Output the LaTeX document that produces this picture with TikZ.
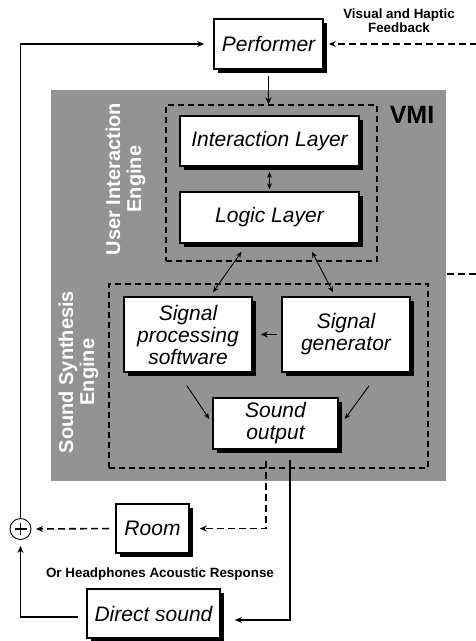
\documentclass[tikz,border=0pt]{standalone}
\usepackage{fontspec}
\setmainfont{Liberation Sans}
\usetikzlibrary{arrows.meta,shadows}
\definecolor{vmigray}{RGB}{147,147,147}

\begin{document}
\begin{tikzpicture}[x=1pt, y=-1pt,
    blockbox/.style={draw, line width=1.6pt, fill=white, align=center, inner sep=0pt,
        font=\fontsize{21}{22}\selectfont\itshape,
        drop shadow={shadow xshift=4pt, shadow yshift=-4pt, fill=black, opacity=1}},
    enginebox/.style={draw, dash pattern=on 6pt off 4pt, line width=1.4pt, inner sep=0pt},
    enginelabel/.style={rotate=90, text=white, align=center, font=\bfseries\fontsize{20}{21}\selectfont},
    smalllabel/.style={align=center, font=\bfseries\fontsize{13.4}{14}\selectfont},
    link/.style={line width=1.6pt, -{Stealth[length=7pt,width=6pt]}},
    dashlink/.style={link, dash pattern=on 7pt off 4pt},
    thinlink/.style={line width=0.9pt, {Stealth[length=6pt,width=5pt]}-{Stealth[length=6pt,width=5pt]}},
    thinarrow/.style={line width=0.9pt, -{Stealth[length=6pt,width=5pt]}}]
    \useasboundingbox (0,0) rectangle (476,641);

    % VMI background
    \node[fill=vmigray, minimum width=395pt, minimum height=391pt, inner sep=0pt] (vmi) at (248.5,285.5) {};
    \node[text=black, font=\bfseries\fontsize{25}{26}\selectfont] (vmilabel) at (412,115) {VMI};

    % engines (dashed frames)
    \node[enginebox, minimum width=211pt, minimum height=156pt] (uie) at (271.5,183) {};
    \node[enginebox, minimum width=319pt, minimum height=184pt] (sse) at (268.5,376) {};
    \node[enginelabel] (uielabel) at (125.5,179) {User Interaction\\Engine};
    \node[enginelabel] (sselabel) at (78.5,372) {Sound Synthesis\\Engine};

    % blocks
    \node[blockbox, minimum width=109pt, minimum height=50pt] (perf) at (268.5,44) {Performer};
    \node[blockbox, minimum width=179pt, minimum height=50pt] (il) at (269.5,141) {Interaction Layer};
    \node[blockbox, minimum width=179pt, minimum height=51pt] (ll) at (269.5,217.5) {Logic Layer};
    \node[blockbox, minimum width=128pt, minimum height=75pt] (sp) at (188,334.5) {Signal\\processing\\software};
    \node[blockbox, minimum width=128pt, minimum height=75pt] (sg) at (346,334.5) {Signal\\generator};
    \node[blockbox, minimum width=125pt, minimum height=51pt] (so) at (275.5,423.5) {Sound\\output};
    \node[blockbox, minimum width=73pt, minimum height=49pt] (room) at (152.5,528.5) {Room};
    \node[blockbox, minimum width=133pt, minimum height=49pt] (ds) at (153.5,613.5) {Direct sound};

    % summing point
    \node[draw, circle, line width=0.9pt, minimum size=21pt, inner sep=0pt] (sum) at (20.5,529) {};
    \draw[line width=1.2pt] ([xshift=-6pt]sum.center) -- ([xshift=6pt]sum.center)
        ([yshift=-6pt]sum.center) -- ([yshift=6pt]sum.center);

    % labels
    \node[smalllabel] (vhf) at (399,21) {Visual and Haptic\\Feedback};
    \node[smalllabel] (hp) at (160,574) {Or Headphones Acoustic Response};

    % inside the VMI
    \draw[link] ([yshift=-6pt]perf.south) -- (perf.south |- uie.north);
    \draw[thinlink, shorten <=5pt, shorten >=2pt] (il.south) -- (ll.north);
    \draw[thinlink] ([xshift=-28pt,yshift=-8pt]ll.south) -- ([xshift=25pt,yshift=4pt]sp.north);
    \draw[thinlink] ([xshift=42.5pt,yshift=-8pt]ll.south) -- ([xshift=-13pt,yshift=4pt]sg.north);
    \draw[link, shorten <=4pt, shorten >=8pt] (sg.west) -- (sp.east);
    \draw[thinarrow] ([xshift=-1pt,yshift=-13pt]sp.south) -- ([xshift=-3pt,yshift=4.5pt]so.west);
    \draw[thinarrow] ([xshift=23pt,yshift=-13pt]sg.south) -- ([xshift=6pt,yshift=4.5pt]so.east);

    % sound back to the performer
    \draw[dashlink, shorten >=10pt] ([xshift=-9.5pt,yshift=-11pt]so.south) |- (room.east);
    \draw[link, shorten >=14pt] ([xshift=14.5pt,yshift=-10pt]so.south) |- ([yshift=-6.5pt]ds.east);
    \draw[dashlink, shorten <=6pt, shorten >=4.5pt] (room.west) -- (sum.east);
    \draw[link, shorten <=8pt, shorten >=6pt] ([yshift=-3.5pt]ds.west) -| (sum.south);
    \draw[link, line width=1.2pt, shorten >=9pt] (sum.north) |- (perf.west);
    \draw[dashlink, shorten >=5pt] ([xshift=1pt,yshift=11.5pt]vmi.east) -- ++(32,0) |- (perf.east);
\end{tikzpicture}
\end{document}
